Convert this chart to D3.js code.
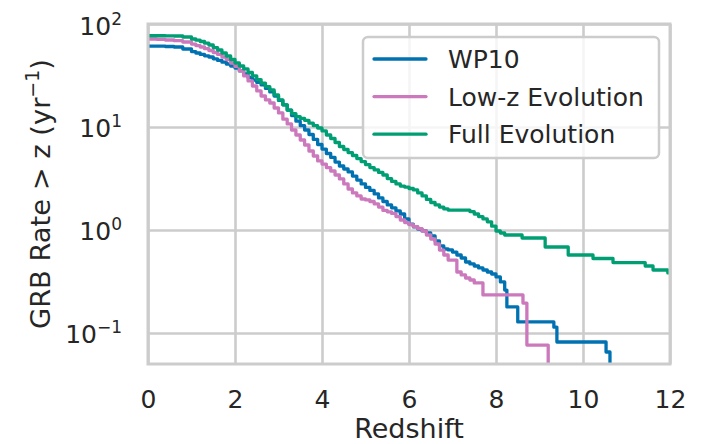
<!DOCTYPE html>
<html><head><meta charset="utf-8">
<script src="https://cdn.jsdelivr.net/npm/d3@7"></script>
<style>
body{margin:0;background:#fff}
svg{display:block}
text{font-family:"DejaVu Sans",sans-serif;fill:#262626}
</style>
</head><body>
<svg id="chart" width="705" height="444"></svg>
<script>
// ---------- data ----------
const seriesNames = ["WP10", "Low-z Evolution", "Full Evolution"];
const seriesColors = ["#0072B2", "#CC78BC", "#009E73"];

const zWP10 = [0,0.2,0.4,0.6,0.8,1.0,1.1,1.2,1.3,1.4,1.5,1.6,1.7,1.8,1.9,2.0,2.1,2.2,2.3,2.4,2.5,2.6,2.7,2.8,2.9,3.0,3.1,3.2,3.3,3.4,3.5,3.6,3.7,3.8,3.9,4.0,4.1,4.2,4.3,4.4,4.5,4.6,4.7,4.8,4.9,5.0,5.1,5.2,5.3,5.4,5.5,5.6,5.7,5.8,5.9,6.0,6.1,6.2,6.3,6.4,6.5,6.6,6.7,6.8,6.9,7.0,7.1,7.2,7.3,7.4,7.5,7.6,7.7,7.8,7.9,8.0,8.1,8.2,8.25,8.5,9.33,9.4,10.53,10.62];
const rateWP10 = [61.1,61.0,60.5,59.8,57.2,54.0,52.3,50.6,49.1,47.8,45.9,44.3,42.6,40.9,39.1,37.4,35.0,32.7,30.3,28.6,27.1,25.6,23.7,21.9,20.0,18.1,16.4,14.6,12.9,11.4,10.3,9.35,8.46,7.57,6.76,6.11,5.53,5.06,4.57,4.18,3.91,3.66,3.34,3.05,2.80,2.59,2.42,2.24,2.05,1.89,1.75,1.64,1.53,1.43,1.28,1.14,1.07,1.02,0.98,0.935,0.875,0.782,0.70,0.654,0.64,0.611,0.572,0.535,0.489,0.468,0.447,0.428,0.409,0.391,0.374,0.350,0.313,0.261,0.179,0.128,0.114,0.0818,0.0654,0.03];

const zLowZ = [0,0.2,0.4,0.6,0.8,1.0,1.1,1.2,1.3,1.4,1.5,1.6,1.7,1.8,1.9,2.0,2.1,2.2,2.3,2.4,2.5,2.6,2.7,2.8,2.9,3.0,3.1,3.2,3.3,3.4,3.5,3.6,3.7,3.8,3.9,4.0,4.1,4.2,4.3,4.4,4.5,4.6,4.7,4.8,4.9,5.0,5.1,5.2,5.3,5.4,5.5,5.6,5.7,5.8,5.9,6.0,6.1,6.2,6.3,6.4,6.5,6.6,6.7,6.8,6.9,7.1,7.2,7.3,7.4,7.5,7.7,8.62,8.71,9.2];
const rateLowZ = [71.5,71.0,69.9,68.9,66.9,63.9,61.8,59.8,57.6,55.3,52.9,50.6,47.8,45.2,41.8,38.7,35.0,31.3,28.0,25.0,22.4,20.0,18.3,17.1,15.3,13.7,11.9,10.7,9.35,8.36,7.48,6.69,5.85,5.23,4.68,4.37,4.04,3.74,3.42,3.13,2.80,2.50,2.29,2.14,2.00,1.96,1.89,1.79,1.67,1.55,1.50,1.45,1.35,1.25,1.18,1.13,1.08,1.03,0.978,0.894,0.818,0.731,0.639,0.572,0.511,0.391,0.366,0.342,0.327,0.306,0.234,0.195,0.0764,0.03];

const zFull = [0,0.2,0.4,0.6,0.8,1.0,1.1,1.2,1.3,1.4,1.5,1.6,1.7,1.8,1.9,2.0,2.1,2.2,2.3,2.4,2.5,2.6,2.7,2.8,2.9,3.0,3.1,3.2,3.3,3.4,3.5,3.6,3.7,3.8,3.9,4.0,4.1,4.2,4.3,4.4,4.5,4.6,4.7,4.8,4.9,5.0,5.1,5.2,5.3,5.4,5.5,5.6,5.7,5.8,5.9,6.0,6.1,6.2,6.3,6.4,6.5,6.6,6.7,6.8,6.9,7.4,7.5,7.6,7.7,7.8,7.9,8.0,8.1,8.2,8.6,9.13,9.66,10.23,10.69,11.43,11.61,11.95,12];
const rateFull = [76.9,76.9,76.8,76.5,74.8,71.5,69.6,67.6,65.1,62.5,59.1,55.9,52.3,48.9,45.2,41.8,39.1,36.6,33.8,31.3,28.9,26.7,24.7,22.9,20.5,18.3,16.4,14.6,13.5,12.6,12.1,11.6,10.9,10.3,9.78,9.15,8.36,7.73,7.07,6.47,6.05,5.65,5.29,4.94,4.62,4.32,4.04,3.83,3.62,3.42,3.16,2.96,2.80,2.67,2.61,2.53,2.45,2.29,2.14,1.98,1.85,1.75,1.67,1.60,1.56,1.51,1.43,1.35,1.28,1.20,1.09,0.978,0.935,0.894,0.836,0.684,0.572,0.529,0.483,0.447,0.409,0.383,0.383];

const xTicks = [0, 2, 4, 6, 8, 10, 12];
const yTicks = [0.1, 1, 10, 100];
const yTickExponents = ["\u22121", "0", "1", "2"];
const xLabel = "Redshift";

// ---------- layout ----------
const W = 705, H = 444;
const m = {left: 148, right: 35, top: 24, bottom: 80};
const pw = W - m.left - m.right, ph = H - m.top - m.bottom;
const ink = "#262626", gridC = "#cccccc";

const svg = d3.select("#chart");
const x = d3.scaleLinear().domain([0, 12]).range([0, pw]);
const y = d3.scaleLog().domain([0.05, 100]).range([ph, 0]);

const g = svg.append("g").attr("transform", `translate(${m.left},${m.top})`);

// grid
g.append("g").attr("class","gridx").attr("transform", `translate(0,${ph})`)
  .call(d3.axisBottom(x).tickValues(xTicks).tickSize(-ph).tickFormat(""))
  .call(s => s.select(".domain").remove())
  .call(s => s.selectAll("line").attr("stroke", gridC).attr("stroke-width", 2.6));
g.append("g").attr("class","gridy")
  .call(d3.axisLeft(y).tickValues(yTicks).tickSize(-pw).tickFormat(""))
  .call(s => s.select(".domain").remove())
  .call(s => s.selectAll("line").attr("stroke", gridC).attr("stroke-width", 2.6));

// curves
svg.append("defs").append("clipPath").attr("id","clip")
  .append("rect").attr("x",0).attr("y",0).attr("width",pw).attr("height",ph);

const series = [
  {z: zWP10, r: rateWP10},
  {z: zLowZ, r: rateLowZ},
  {z: zFull, r: rateFull}
];
const line = d3.line().curve(d3.curveStepAfter)
  .x(d => x(d[0])).y(d => y(d[1]));
const curves = g.append("g").attr("clip-path","url(#clip)");
series.forEach((s, i) => {
  const pts = s.z.map((z, k) => [z, s.r[k]]);
  curves.append("path").datum(pts)
    .attr("d", line)
    .attr("fill","none")
    .attr("stroke", seriesColors[i])
    .attr("stroke-width", 3.3)
    .attr("stroke-linejoin","round");
});

// spines
g.append("rect").attr("x",0).attr("y",0).attr("width",pw).attr("height",ph)
  .attr("fill","none").attr("stroke", gridC).attr("stroke-width", 3);

// x axis labels
g.append("g").attr("transform", `translate(0,${ph})`)
  .call(d3.axisBottom(x).tickValues(xTicks).tickSize(0).tickFormat(d3.format("d")))
  .call(s => s.select(".domain").remove())
  .call(s => s.selectAll("text").attr("y", 44).attr("dy", null)
      .attr("font-size", 25).attr("fill", ink)
      .style("font-family", '"DejaVu Sans", sans-serif'));

// y axis labels with superscripts
const yAx = g.append("g")
  .call(d3.axisLeft(y).tickValues(yTicks).tickSize(0).tickFormat(""))
  .call(s => s.select(".domain").remove());
yAx.selectAll(".tick text").each(function(d, i) {
  const t = d3.select(this);
  t.text(null).attr("x", -26).attr("y", 10).attr("dy", null)
   .attr("text-anchor","end").attr("font-size", 25).attr("fill", ink)
   .style("font-family", '"DejaVu Sans", sans-serif');
  t.append("tspan").text("10");
  t.append("tspan").attr("dy", -10).attr("font-size", 17).text(yTickExponents[yTicks.indexOf(d)]);
});

// axis titles
svg.append("text").attr("x", m.left + pw/2).attr("y", 438)
  .attr("text-anchor","middle").attr("font-size", 27).text(xLabel);

const yl = svg.append("text").attr("transform", `translate(50,${m.top + ph/2}) rotate(-90)`)
  .attr("text-anchor","middle").attr("font-size", 27.3);
yl.append("tspan").text("GRB Rate > z (yr");
yl.append("tspan").attr("dy", -11).attr("font-size", 19).text("\u22121");
yl.append("tspan").attr("dy", 11).text(")");

// legend
const lg = svg.append("g");
lg.append("rect").attr("x", 363).attr("y", 37).attr("width", 296).attr("height", 121)
  .attr("rx", 5).attr("fill", "#fff").attr("fill-opacity", 0.8)
  .attr("stroke", gridC).attr("stroke-width", 2.5);
seriesNames.forEach((n, i) => {
  const ly = 59 + i * 37.6;
  lg.append("line").attr("x1", 374).attr("x2", 426).attr("y1", ly).attr("y2", ly)
    .attr("stroke", seriesColors[i]).attr("stroke-width", 3.3).attr("stroke-linecap","round");
  lg.append("text").attr("x", 448).attr("y", ly + 9).attr("font-size", 25).text(n);
});
</script>
</body></html>
